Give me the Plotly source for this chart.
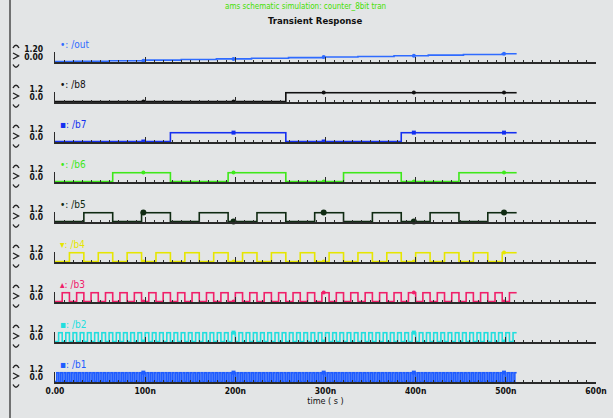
import numpy as np
import plotly.graph_objects as go

# ---------------- data ----------------
signal_names = ["/out", "/b8", "/b7", "/b6", "/b5", "/b4", "/b3", "/b2", "/b1"]
legend_marks = ["•", "•", "▪", "•", "•", "▾", "▴", "▪", "▪"]
signal_colors = ["#2f6bff", "#111111", "#1530f0", "#3ee81a", "#0f2a12",
                 "#e6e600", "#f0206a", "#22dede", "#1f5cff"]

# digital counter bits: half period (ns) of each bit, b8 ... b1
bit_half_period_ns = [256, 128, 64, 32, 16, 8, 4, 2]
bit_high_level = 1.2
stop_time_ns = 512

# analog output staircase (/out)
out_time_ns = [0, 20, 60, 100, 140, 179, 218, 259, 297, 336, 376, 414, 453, 496, 512]
out_value = [0.0, 0.03, 0.10, 0.18, 0.26, 0.35, 0.43, 0.52, 0.60, 0.68, 0.77, 0.86, 0.94, 1.05, 1.05]

marker_time_ns = [98, 198, 298, 398, 498]

x_tick_vals = [0, 100, 200, 300, 400, 500, 600]
x_tick_text = ["0.00", "100n", "200n", "300n", "400n", "500n", "600n"]
y_tick_text_bits = ["0.0", "1.2"]
y_tick_text_out = ["0.00", "1.20"]

# ---------------- layout helpers ----------------
W, H = 613, 418
def px_x(p):
    return p / W
def px_y(p):
    return 1 - p / H

baselines = [61.5, 101.5, 141.5, 181.5, 221.5, 261.5, 301.5, 341.5, 381.5]
y_range = [-0.08, 1.32]
px_per_unit = 7.4
x_left, x_right = 55, 596

FONT_N = "DejaVu Sans Condensed, Liberation Sans Narrow, Roboto Condensed, Arial Narrow, Liberation Sans, sans-serif"

fig = go.Figure()
layout = dict(
    width=W, height=H, autosize=False,
    margin=dict(l=0, r=0, t=0, b=0, pad=0),
    paper_bgcolor="#e3e5e6", plot_bgcolor="rgba(0,0,0,0)",
    showlegend=False,
)

shapes = []
annotations = []

def step_lookup(xs, ys, t):
    idx = int(np.searchsorted(xs, t, side="right")) - 1
    return ys[max(idx, 0)]

for i, name in enumerate(signal_names):
    n = i + 1
    xa = "x" if n == 1 else f"x{n}"
    ya = "y" if n == 1 else f"y{n}"
    color = signal_colors[i]
    if i == 0:
        xs = np.array(out_time_ns, dtype=float)
        ys = np.array(out_value, dtype=float)
    else:
        half = bit_half_period_ns[i - 1]
        xs = np.arange(0, stop_time_ns + half, half, dtype=float)
        ys = np.array([0.0 if k % 2 == 0 else bit_high_level for k in range(len(xs))])
        ys[-1] = ys[-2]
    fig.add_trace(go.Scatter(x=xs, y=ys, mode="lines", line=dict(color=color, width=1.6, shape="hv"),
                             xaxis=xa, yaxis=ya, hoverinfo="skip"))
    my = [step_lookup(xs, ys, t) for t in marker_time_ns]
    fig.add_trace(go.Scatter(x=marker_time_ns, y=my, mode="markers",
                             marker=dict(color=color, size=4 if i != 4 else 6,
                                         symbol="square" if i in (2, 7, 8) else "circle"),
                             cliponaxis=False, xaxis=xa, yaxis=ya, hoverinfo="skip"))

    b = baselines[i]
    bottom_px = b + (0 - y_range[0]) * px_per_unit
    top_px = b - (y_range[1]) * px_per_unit
    last = (i == len(signal_names) - 1)
    layout["xaxis" if n == 1 else f"xaxis{n}"] = dict(
        domain=[px_x(x_left), px_x(x_right)], anchor=ya, range=[0, 600], automargin=False,
        showgrid=False, zeroline=False, showline=True, linecolor="#2a2a2a", linewidth=1.5,
        ticks="inside", ticklen=5, tickwidth=1, tickcolor="#2a2a2a",
        tickvals=x_tick_vals, ticktext=[f"<b>{t}</b>" for t in x_tick_text], showticklabels=last,
        tickfont=dict(family=FONT_N, size=8.5, color="#111"),
        minor=dict(dtick=10, ticks="inside", ticklen=2.5, tickcolor="#2a2a2a", showgrid=False),
        title=dict(text="time ( s )", font=dict(family=FONT_N, size=9, color="#111"), standoff=1) if last else None,
        fixedrange=True,
    )
    layout["yaxis" if n == 1 else f"yaxis{n}"] = dict(
        domain=[px_y(bottom_px), px_y(top_px)], anchor=xa, range=y_range, automargin=False,
        showgrid=False, zeroline=False, showline=True, linecolor="#2a2a2a", linewidth=1.2,
        ticks="inside", ticklen=2, tickcolor="#2a2a2a",
        tickvals=[0, 1.2], ticktext=[f"<b>{t}</b>" for t in (y_tick_text_out if i == 0 else y_tick_text_bits)],
        tickfont=dict(family=FONT_N, size=8.5, color="#111"),
        ticklabelshift=-4, ticklabelstandoff=9, fixedrange=True,
    )

    # signal label
    annotations.append(dict(x=px_x(58), y=px_y(b - 17), xref="paper", yref="paper",
                            text=f"{legend_marks[i]}: {name}", showarrow=False,
                            xanchor="left", yanchor="middle",
                            font=dict(family=FONT_N, size=10, color=color)))
    # expand / collapse chevrons
    lc = "#222"
    shapes.append(dict(type="path", xref="paper", yref="paper",
                       path=f"M {px_x(13)},{px_y(b-13.5)} Q {px_x(16)},{px_y(b-19)} {px_x(19)},{px_y(b-13.5)}",
                       line=dict(color=lc, width=1.4)))
    shapes.append(dict(type="path", xref="paper", yref="paper",
                       path=f"M {px_x(13)},{px_y(b-8.5)} L {px_x(18.5)},{px_y(b-5.5)} L {px_x(13)},{px_y(b-2.5)}",
                       line=dict(color=lc, width=1.4)))
    shapes.append(dict(type="path", xref="paper", yref="paper",
                       path=f"M {px_x(13)},{px_y(b+3)} Q {px_x(16)},{px_y(b+8.5)} {px_x(19)},{px_y(b+3)}",
                       line=dict(color=lc, width=1.4)))

# left window border
shapes.append(dict(type="line", xref="paper", yref="paper", x0=px_x(10), x1=px_x(10), y0=0, y1=1,
                   line=dict(color="#4a4a4a", width=1.5)))

annotations.append(dict(x=px_x(315), y=px_y(20), xref="paper", yref="paper", text="<b>Transient Response</b>",
                        showarrow=False, xanchor="center", yanchor="middle",
                        font=dict(family=FONT_N, size=9.5, color="#111")))
annotations.append(dict(x=px_x(305), y=px_y(0), xref="paper", yref="paper",
                        text="ams schematic simulation: counter_8bit tran",
                        showarrow=False, xanchor="center", yanchor="top",
                        font=dict(family=FONT_N, size=8, color="#44e000")))

layout["shapes"] = shapes
layout["annotations"] = annotations
fig.update_layout(**layout)
fig.write_html("out.html", config={"displayModeBar": False, "staticPlot": True},
               post_script="document.body.style.margin='0';document.body.style.overflow='hidden';")
